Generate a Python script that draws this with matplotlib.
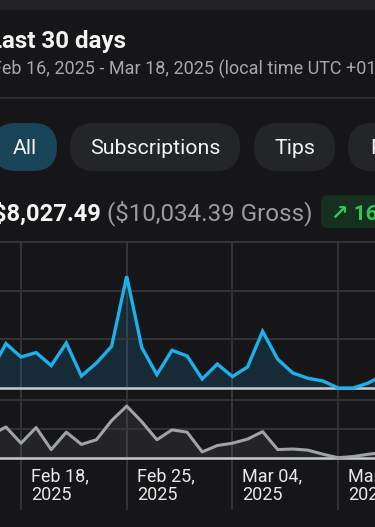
import matplotlib
matplotlib.use("Agg")
import matplotlib.pyplot as plt
import matplotlib.dates as mdates
from matplotlib.patches import FancyBboxPatch, Rectangle
from matplotlib.transforms import ScaledTranslation
import pandas as pd

# ---------------- data ----------------
dates = pd.date_range("2025-02-16", "2025-03-14", freq="D")
net_earnings = [168, 456, 318, 364, 230, 462, 123, 257, 428, 1147,
                415, 138, 387, 329, 92, 246, 117, 216, 582, 295,
                154, 100, 72, 0, 0, 51, 136]
secondary = [39, 53, 25, 52, 14, 44, 23, 31, 64, 89,
             62, 31, 48, 44, 10, 21, 25, 32, 45, 14,
             15, 13, 6, 0, 2, 6, 9]
tick_dates = ["2025-02-18", "2025-02-25", "2025-03-04", "2025-03-11"]
tick_labels = ["Feb 18,\n2025", "Feb 25,\n2025", "Mar 04,\n2025", "Mar 11,\n2025"]
filters = ["All", "Subscriptions", "Tips", "Posts"]
title = "Last 30 days"
subtitle = "Feb 16, 2025 - Mar 18, 2025 (local time UTC +01:00)"
net_total = "$8,027.49"
gross_total = "($10,034.39 Gross)"
change = "↗ 16.4%"

# ---------------- style ----------------
W, H, DPI = 375, 527, 100
BG = "#161618"
GRID = "#37373a"
BASE = "#c9cacd"
BLUE = "#1cb0ec"
GRAY = "#9fa3aa"
FONT = ["Roboto", "DejaVu Sans"]

fig = plt.figure(figsize=(W / DPI, H / DPI), dpi=DPI, facecolor=BG)

def frect(top, bottom):
    return [0, 1 - bottom / H, 1, (bottom - top) / H]

# background / UI axes in pixel coordinates
bg = fig.add_axes([0, 0, 1, 1])
bg.set_xlim(0, W)
bg.set_ylim(H, 0)
bg.axis("off")
bg.set_zorder(0)

bg.add_patch(Rectangle((0, 0), W, 10, color="#222327", lw=0))
bg.plot([0, W], [97.5, 97.5], color="#333336", lw=1.2)

bg.text(-11, 48.3, title, fontsize=17.4, fontweight="bold", color="#f4f4f4",
        family=FONT, va="baseline", ha="left")
bg.text(-8, 75, subtitle, fontsize=13.0, color="#a7a8ad",
        family=FONT, va="baseline", ha="left")

pill_specs = [(-8, 65, "#1a4558"), (70, 170, "#242528"),
              (254, 81, "#242528"), (348, 97, "#242528")]
for (x0, w, fc), label in zip(pill_specs, filters):
    bg.add_patch(FancyBboxPatch((x0, 123), w, 48,
                                boxstyle="round,pad=0,rounding_size=24",
                                fc=fc, ec="none"))
    if label == "Posts":
        bg.text(370, 154, label, fontsize=15.4, color="#f2f2f2", family=FONT,
                va="baseline", ha="left")
    else:
        bg.text(x0 + w / 2, 154, label, fontsize=15.4, color="#f2f2f2",
                family=FONT, va="baseline", ha="center")

bg.text(-7, 220.5, net_total, fontsize=17, fontweight="bold", color="#f6f6f6",
        family=FONT, va="baseline", ha="left")
bg.text(107, 220.5, gross_total, fontsize=17.4, color="#9a9ca2",
        family=FONT, va="baseline", ha="left")
bg.add_patch(FancyBboxPatch((321, 195), 80, 33,
                            boxstyle="round,pad=0,rounding_size=7",
                            fc="#16301f", ec="none"))
bg.text(331, 220, change, fontsize=15, fontweight="bold", color="#33c758",
        family=FONT, va="baseline", ha="left")

# ---------------- x mapping ----------------
PX_PER_DAY = 15.1
x_ref = mdates.date2num(pd.Timestamp("2025-02-18"))
x0 = x_ref - 21 / PX_PER_DAY
x1 = x0 + W / PX_PER_DAY
xnum = mdates.date2num(dates)
tnum = mdates.date2num(pd.to_datetime(tick_dates))

# vertical grid axes
gax = fig.add_axes(frect(241, 510))
gax.set_xlim(x0, x1)
gax.set_ylim(0, 1)
gax.set_facecolor("none")
for s in gax.spines.values():
    s.set_visible(False)
gax.set_xticks(tnum)
gax.set_yticks([])
gax.tick_params(length=0, labelbottom=False)
gax.grid(axis="x", color=GRID, lw=1.3)
gax.set_zorder(1)

# upper chart
u_base, u_px = 388.0, 48.7 / 500
u_top, u_bot = 236, 392
ax1 = fig.add_axes(frect(u_top, u_bot))
ax1.set_xlim(x0, x1)
ax1.set_ylim(-(u_bot - u_base) / u_px, (u_base - u_top) / u_px)
ax1.set_facecolor("none")
for s in ax1.spines.values():
    s.set_visible(False)
ax1.set_yticks([500, 1000, 1500])
ax1.set_xticks([])
ax1.tick_params(length=0, labelleft=False)
ax1.grid(axis="y", color=GRID, lw=1.3)
ax1.fill_between(xnum, net_earnings, 0, color=BLUE, alpha=0.14, lw=0)
ax1.axhline(0, color=BASE, lw=1.8)
ax1.plot(xnum, net_earnings, color=BLUE, lw=2.4, solid_joinstyle="miter")
ax1.set_zorder(2)

# lower chart
l_base, l_px = 457.7, 29.0 / 50
l_top, l_bot = 396, 462
ax2 = fig.add_axes(frect(l_top, l_bot))
ax2.set_xlim(x0, x1)
ax2.set_ylim(-(l_bot - l_base) / l_px, (l_base - l_top) / l_px)
ax2.set_facecolor("none")
for s in ax2.spines.values():
    s.set_visible(False)
ax2.set_yticks([50, 100])
ax2.tick_params(axis="y", length=0, labelleft=False)
ax2.grid(axis="y", color=GRID, lw=1.3)
ax2.fill_between(xnum, secondary, 0, color="#8a8d93", alpha=0.12, lw=0)
ax2.axhline(0, color=BASE, lw=1.8)
ax2.plot(xnum, secondary, color=GRAY, lw=2.2)
ax2.set_xticks(tnum)
ax2.set_xticklabels(tick_labels, ha="left", fontsize=13, color="#e8e8e8",
                    family=FONT, linespacing=1.0)
ax2.tick_params(axis="x", length=0, pad=4)
off = ScaledTranslation(10 / DPI, 0, fig.dpi_scale_trans)
for lab in ax2.get_xticklabels():
    lab.set_transform(lab.get_transform() + off)
ax2.set_zorder(2)

fig.savefig("out.png", dpi=DPI, facecolor=BG)
